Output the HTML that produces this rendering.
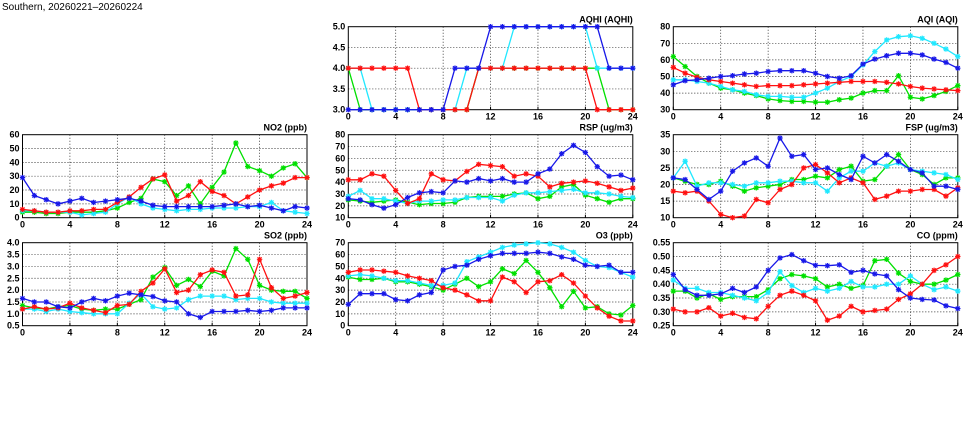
<!DOCTYPE html>
<html><head><meta charset="utf-8">
<style>
html,body{margin:0;padding:0;background:#fff;}
svg{display:block;}
text{font-family:"Liberation Sans",sans-serif;}
</style></head>
<body>
<svg id="chart" width="975" height="447" viewBox="0 0 975 447" xmlns="http://www.w3.org/2000/svg">
<text x="2" y="10" font-family="Liberation Mono, monospace" font-size="10" fill="#000">Southern, 20260221–20260224</text>
</svg>
<script>
const hours = [0,1,2,3,4,5,6,7,8,9,10,11,12,13,14,15,16,17,18,19,20,21,22,23,24];
const xTicks = [0,4,8,12,16,20,24];
const seriesNames = ["green","cyan","red","blue"];

const aqhiGreen = [4,3,3,3,3,3,3,3,3,3,3,4,4,4,4,4,4,4,4,4,4,4,3,3,3];
const aqhiCyan = [4,4,3,3,3,3,3,3,3,3,4,4,4,4,5,5,5,5,5,5,5,4,4,4,4];
const aqhiRed = [4,4,4,4,4,4,3,3,3,3,3,4,4,4,4,4,4,4,4,4,4,3,3,3,3];
const aqhiBlue = [3,3,3,3,3,3,3,3,3,4,4,4,5,5,5,5,5,5,5,5,5,5,4,4,4];
const aqhiTicks = [3.0,3.5,4.0,4.5,5.0];

const aqiGreen = [62,56,50,46,43,42,40,38.5,36.5,35.5,35,35,34.5,34.5,36,37,40,41.5,41.5,50.5,37.5,36.5,38.5,41,44.5];
const aqiCyan = [48,48,47,46,44,42,41,39,38,38,37.5,37.5,40,43,47,50,57,65,72,74,74.5,73,70,66.5,62];
const aqiRed = [55.5,52,49.5,48,47,46,45,44,44.5,44.5,44.5,45,45.5,46,46.5,47,47,47,46.5,45.5,44,43,42.5,42,41.5];
const aqiBlue = [45,47.5,48,49,50,50.5,51.5,52,53,53.5,53.5,53.5,52,50,49,50.5,57.5,60.5,62.5,64,64,63,60.5,58.5,55];
const aqiTicks = [30,40,50,60,70,80];

const no2Green = [4,4,3,3,4,4,4,5,7,11,14,28,26,16,23,10,22,33,54,37,34,30,36,39,29];
const no2Cyan = [5,5,4,4,4,2,3,4,10,15,10,7,6,5,6,6,7,7,7,8,8,11,5,4,3];
const no2Red = [6,5,4,4,5,5,6,6,11,15,22,28,31,12,16,26,19,16,10,15,20,23,25,29,29];
const no2Blue = [29,16,13,10,12,14,11,12,13,14,12,9,8,8,8,8,8,9,10,8,9,7,5,8,7];
const no2Ticks = [0,10,20,30,40,50,60];

const rspGreen = [25,24,23,24,25,23,21,22,22,23,27,28,28,28,30,31,26,28,36,38,29,26,23,26,26];
const rspCyan = [28,33,26,26,24,22,24,24,25,25,27,27,27,24,29,31,31,32,33,34,31,31,30,28,27];
const rspRed = [42,42,47,45,33,22,26,47,42,41,49,55,54,53,45,47,45,36,39,40,41,39,36,33,35];
const rspBlue = [26,25,21,18,21,27,31,32,31,41,40,43,41,43,40,40,47,51,64,71,65,53,45,46,42];
const rspTicks = [10,20,30,40,50,60,70,80];

const fspGreen = [22,21,20,20,21,19.5,18,19,19.5,20,21.5,21.5,22.5,22,24.5,25.5,21,21.5,25.5,29,24.5,23,20,22,22];
const fspCyan = [22,27,19.5,20.5,20.5,20,19.5,20.5,20.5,21,21,20.5,20.5,18,22,24,24,26.5,25.5,26.5,24.5,24,23.5,23,21.5];
const fspRed = [18,17.5,18,15,11,10,10.5,15.5,14.5,18.5,20,25,26,23.5,20.5,22,20.5,15.5,16.5,18,18,18.5,18.5,16.5,19];
const fspBlue = [22,21.5,18.5,15.5,18,24,26.5,28,25.5,34,28.5,29,24.5,25,23,21.5,28.5,26.5,29,27,24.5,23.5,19.5,19.5,18.5];
const fspTicks = [10,15,20,25,30,35];

const so2Green = [1.35,1.25,1.2,1.3,1.35,1.2,1.15,1.2,1.2,1.4,1.6,2.55,2.95,2.2,2.45,2.15,2.8,2.6,3.75,3.3,2.2,2.0,1.95,1.95,1.65];
const so2Cyan = [1.2,1.2,1.1,1.2,1.1,1.05,1.0,1.0,1.0,1.45,1.85,1.3,1.2,1.25,1.6,1.75,1.75,1.75,1.6,1.65,1.65,1.5,1.45,1.45,1.45];
const so2Red = [1.2,1.3,1.2,1.25,1.45,1.25,1.15,1.05,1.35,1.4,1.95,2.3,2.9,1.9,2.0,2.65,2.85,2.75,1.75,1.8,3.3,2.1,1.65,1.75,1.9];
const so2Blue = [1.65,1.5,1.5,1.3,1.25,1.5,1.65,1.55,1.75,1.87,1.8,1.73,1.55,1.5,1.0,0.85,1.1,1.1,1.1,1.15,1.1,1.15,1.25,1.25,1.25];
const so2Ticks = [0.5,1.0,1.5,2.0,2.5,3.0,3.5,4.0];

const o3Green = [41,39,39,40,37,37,35,33,30,35,40,33,37,48,44,55,45,32,16,29,15,16,10,9,17];
const o3Cyan = [42,43,42,40,38,38,36,34,34,36,54,58,62,66,68,69,70,69,66,62,55,50,49,45,41];
const o3Red = [45,47,47,46,45,42,40,38,32,30,26,21,21,41,37,28,37,38,43,36,25,15,8,4,4];
const o3Blue = [18,27,27,27,22,21,26,28,47,50,51,56,59,61,61,61,62,61,58,56,51,50,51,45,45];
const o3Ticks = [0,10,20,30,40,50,60,70];

const coGreen = [0.375,0.375,0.35,0.365,0.345,0.355,0.355,0.355,0.38,0.42,0.435,0.43,0.42,0.39,0.4,0.385,0.395,0.485,0.49,0.44,0.41,0.4,0.4,0.415,0.435];
const coCyan = [0.415,0.385,0.385,0.37,0.37,0.36,0.35,0.34,0.37,0.445,0.395,0.37,0.385,0.375,0.385,0.41,0.39,0.39,0.4,0.4,0.43,0.4,0.38,0.39,0.375];
const coRed = [0.31,0.3,0.3,0.315,0.285,0.295,0.28,0.275,0.32,0.36,0.375,0.36,0.34,0.27,0.285,0.32,0.3,0.305,0.31,0.345,0.365,0.4,0.45,0.47,0.5];
const coBlue = [0.435,0.38,0.36,0.36,0.365,0.385,0.37,0.39,0.45,0.495,0.507,0.485,0.468,0.467,0.47,0.443,0.45,0.437,0.43,0.38,0.35,0.345,0.343,0.322,0.312];
const coTicks = [0.25,0.30,0.35,0.40,0.45,0.50,0.55];

const NS = "http://www.w3.org/2000/svg";
const svg = document.getElementById("chart");
const colors = {green:"#00e000", cyan:"#20e8ff", red:"#ff1010", blue:"#1818e8"};

function mk(tag, attrs, parent){
  const e = document.createElementNS(NS, tag);
  for (const k in attrs) e.setAttribute(k, attrs[k]);
  parent.appendChild(e);
  return e;
}

function panel(key, title, left, top, ticks, fmt, data){
  const w = 284.5, h = 83;
  const right = left + w, bottom = top + h;
  const ymin = ticks[0], ymax = ticks[ticks.length-1];
  const xs = v => left + (v/24)*w;
  const ys = v => bottom - (Math.max(ymin, Math.min(ymax, v)) - ymin)/(ymax-ymin)*h;
  const g = mk("g", {}, svg);
  
  
  xTicks.forEach(t => {
    if (t===0||t===24) return;
    const l = mk("line", {x1:xs(t), x2:xs(t), y1:top, y2:bottom, stroke:"#000", "stroke-width":"0.7", "stroke-dasharray":"1,2"}, g);
    
    
  });
  ticks.forEach(t => {
    if (t===ymin||t===ymax) return;
    const l = mk("line", {x1:left, x2:right, y1:ys(t), y2:ys(t), stroke:"#000", "stroke-width":"0.7", "stroke-dasharray":"1,2"}, g);
    
    
  });
  xTicks.forEach(t => {
    const tx = mk("text", {x:xs(t), y:bottom+10, "font-size":"9", "font-weight":"bold", "text-anchor":"middle"}, g);
    tx.textContent = t;
    
    
    const tk = mk("line", {x1:xs(t), x2:xs(t), y1:bottom, y2:bottom-3, stroke:"#000", "stroke-width":"1"}, g);
    
    
  });
  ticks.forEach(t => {
    const tx = mk("text", {x:left-3, y:ys(t)+3, "font-size":"9", "font-weight":"bold", "text-anchor":"end"}, g);
    tx.textContent = fmt(t);
    
    
  });
  const frame = mk("rect", {x:left, y:top, width:w, height:h, fill:"none", stroke:"#000", "stroke-width":"1"}, g);
  
  
  const ttl = mk("text", {x:right, y:top-4, "font-size":"9", "font-weight":"bold", "text-anchor":"end", "font-family":"Liberation Mono, monospace"}, g);
  ttl.textContent = title;
  
  
  seriesNames.forEach((s, si) => {
    const vals = data[si];
    const c = colors[s];
    const pts = hours.map((hh,i) => xs(hh).toFixed(1)+","+ys(vals[i]).toFixed(1)).join(" ");
    const line = mk("polyline", {points:pts, fill:"none", stroke:c, "stroke-width":"1.3"}, g);
    
    
    hours.forEach((hh,i) => {
      const cx = xs(hh), cy = ys(vals[i]), r = 2.7;
      const m = mk("path", {d:`M${cx-r},${cy}H${cx+r}M${cx},${cy-r}V${cy+r}M${cx-r*0.75},${cy-r*0.75}L${cx+r*0.75},${cy+r*0.75}M${cx-r*0.75},${cy+r*0.75}L${cx+r*0.75},${cy-r*0.75}`, stroke:c, "stroke-width":"1.2", fill:"none"}, g);
      
      
    });
  });
}

const f1 = v => v.toFixed(1), f0 = v => String(v), f2 = v => v.toFixed(2);
const L = 22.5, M = 348.3, R = 673.3;
const T0 = 26.7, T1 = 134.7, T2 = 242.7;
panel("aqhi", "AQHI (AQHI)", M, T0, aqhiTicks, f1, [aqhiGreen, aqhiCyan, aqhiRed, aqhiBlue]);
panel("aqi", "AQI (AQI)", R, T0, aqiTicks, f0, [aqiGreen, aqiCyan, aqiRed, aqiBlue]);
panel("no2", "NO2 (ppb)", L, T1, no2Ticks, f0, [no2Green, no2Cyan, no2Red, no2Blue]);
panel("rsp", "RSP (ug/m3)", M, T1, rspTicks, f0, [rspGreen, rspCyan, rspRed, rspBlue]);
panel("fsp", "FSP (ug/m3)", R, T1, fspTicks, f0, [fspGreen, fspCyan, fspRed, fspBlue]);
panel("so2", "SO2 (ppb)", L, T2, so2Ticks, f1, [so2Green, so2Cyan, so2Red, so2Blue]);
panel("o3", "O3 (ppb)", M, T2, o3Ticks, f0, [o3Green, o3Cyan, o3Red, o3Blue]);
panel("co", "CO (ppm)", R, T2, coTicks, f2, [coGreen, coCyan, coRed, coBlue]);
</script>
</body></html>
